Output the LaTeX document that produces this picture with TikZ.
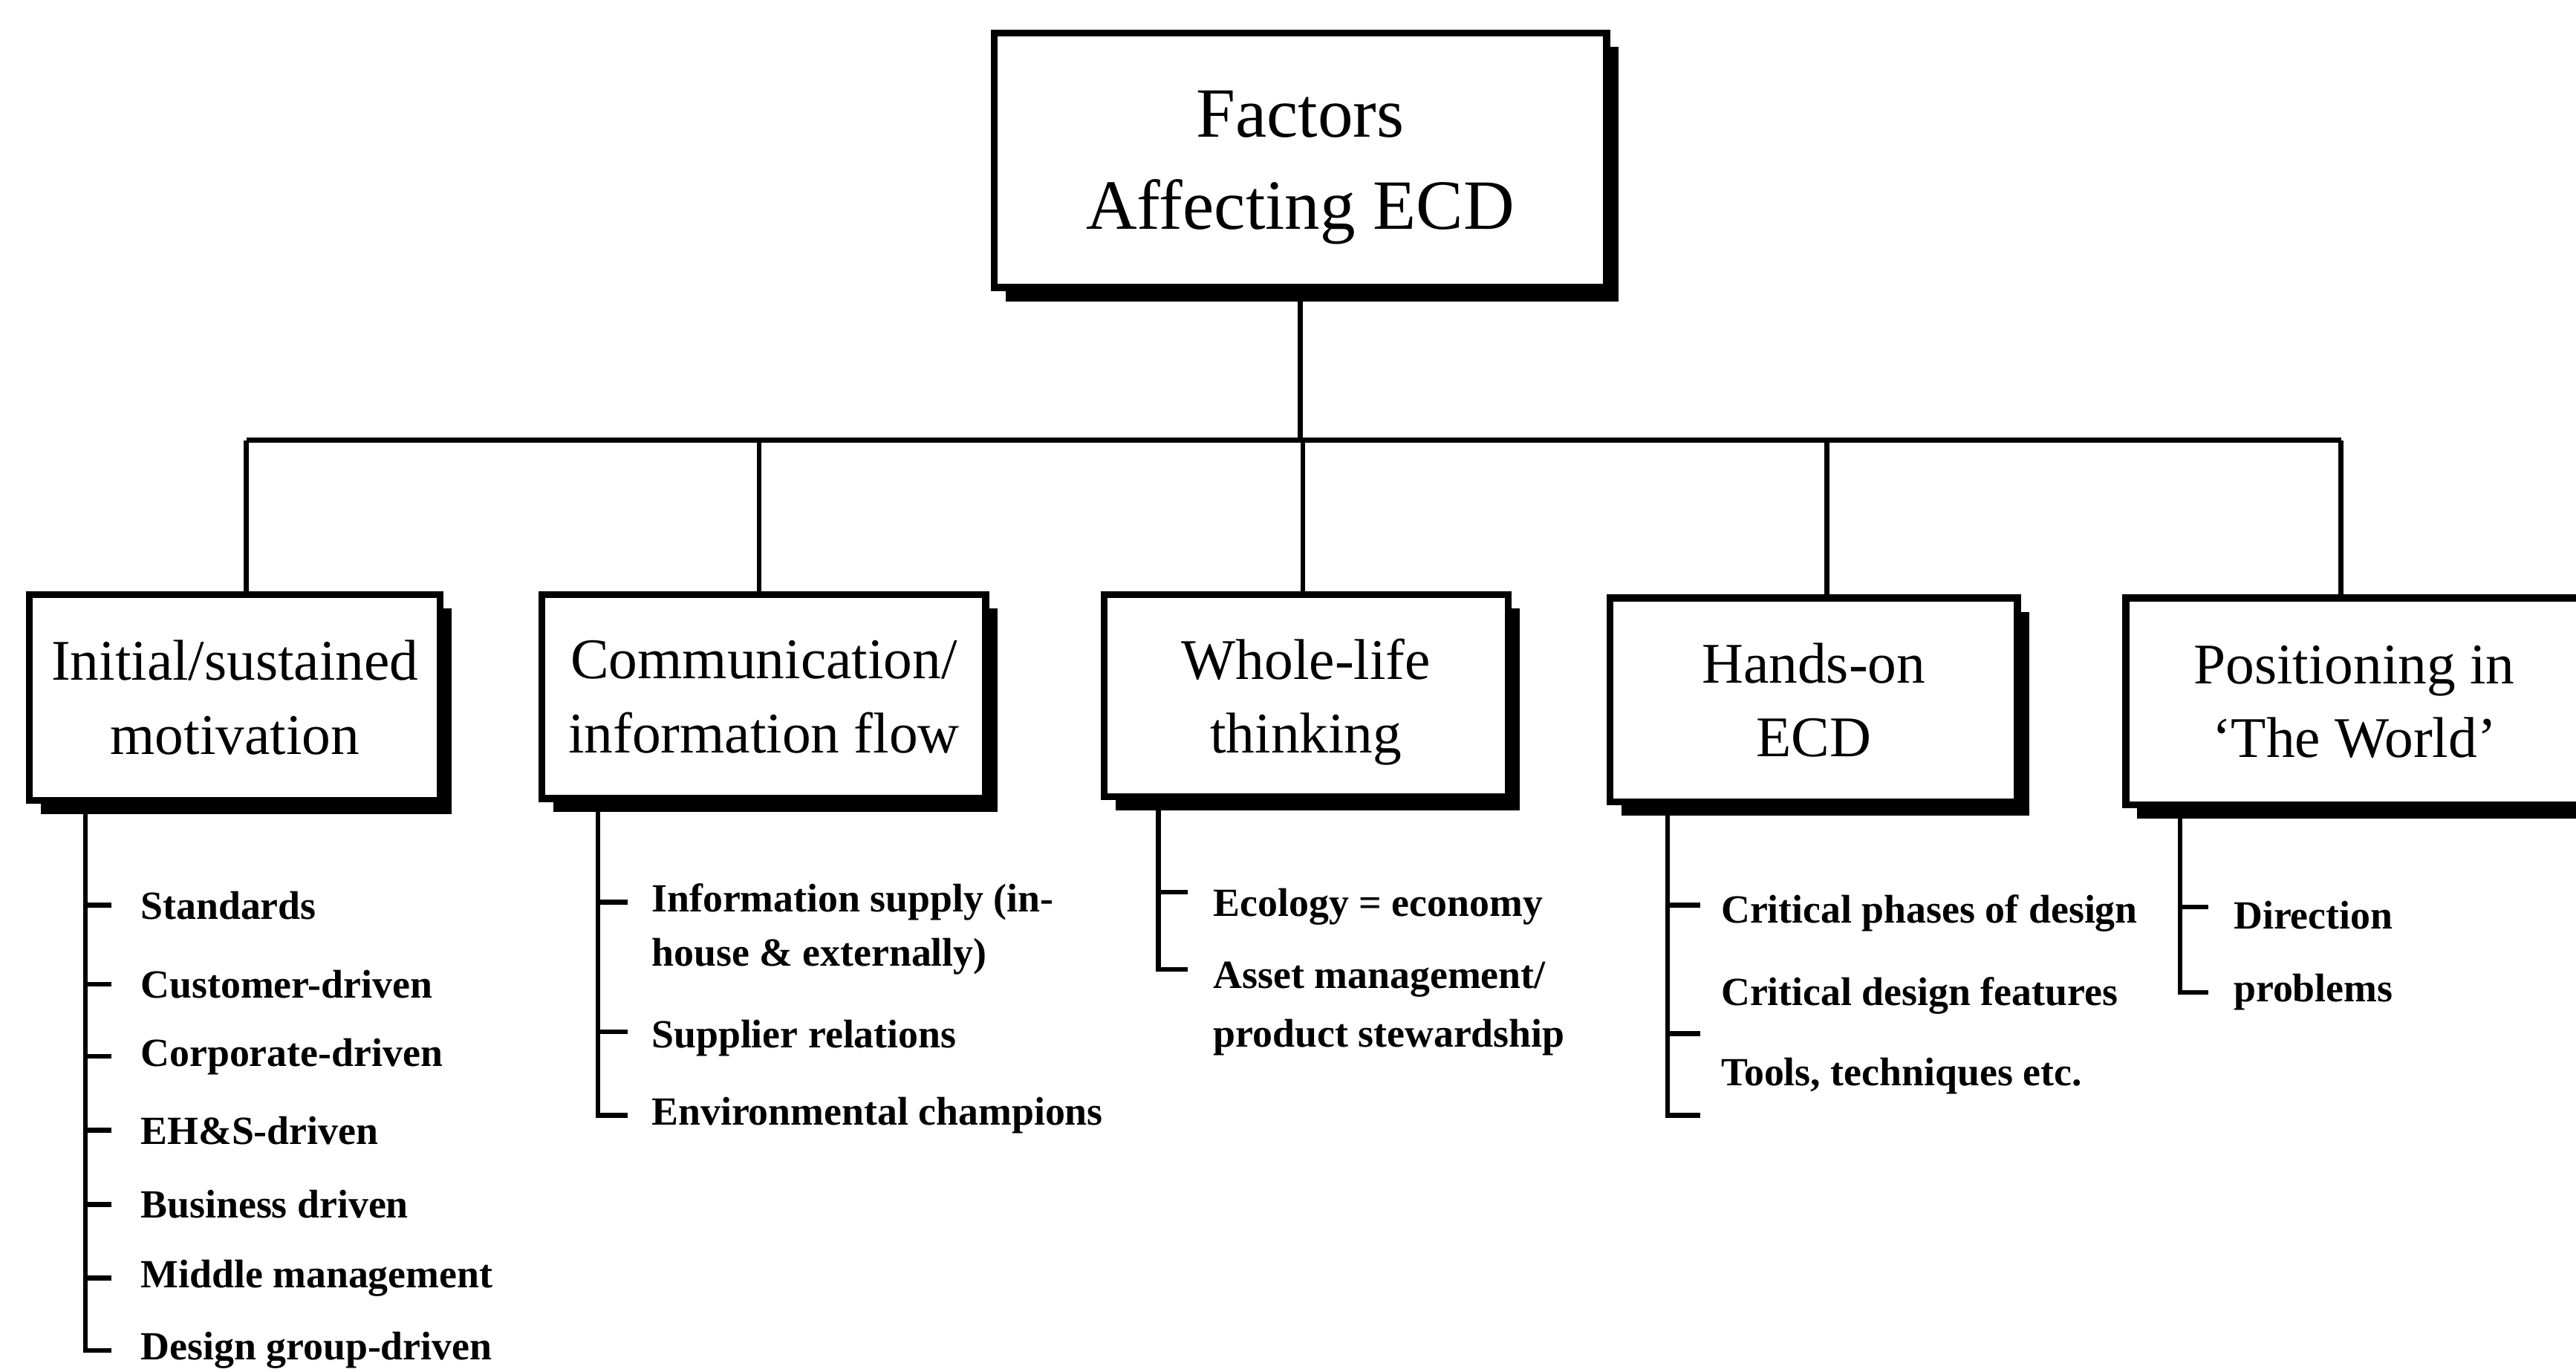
\documentclass[tikz,border=0pt]{standalone}
\usepackage{fontspec}
\setmainfont{Liberation Serif}
\usetikzlibrary{shadows}
\begin{document}
\begin{tikzpicture}[x=0.3pt,y=-0.3pt,
 box/.style={draw, line width=1.25pt, fill=white, align=center, inner sep=0pt, text depth=0pt,
   drop shadow={opacity=1, fill=black, shadow xshift=2.1pt, shadow yshift=-2.5pt}},
 topbox/.style={box, font=\fontsize{12.9}{16.8}\selectfont},
 catbox/.style={box, font=\fontsize{10.5}{13.5}\selectfont},
 item/.style={anchor=west, inner sep=0pt, align=left, font=\fontsize{7.3}{9.9}\selectfont\bfseries},
 link/.style={line width=0.9pt},
]
\useasboundingbox (0,0) rectangle (1568,835);
\clip (0,0) rectangle (1568,835);

% main box
\node[topbox, minimum width=111.9pt, minimum height=46.5pt] (top) at (791.5,97.5) {Factors\\Affecting ECD};

% category boxes
\node[catbox, minimum width=75pt, minimum height=37.5pt] (c1) at (143,424.5) {Initial/sustained\\motivation};
\node[catbox, minimum width=81pt, minimum height=37.2pt] (c2) at (465,424) {Communication/\\information flow};
\node[catbox, minimum width=73.8pt, minimum height=36.9pt] (c3) at (795,423.5) {Whole-life\\thinking};
\node[catbox, minimum width=74.4pt, minimum height=37.2pt] (c4) at (1104,426) {Hands-on\\ECD};
\node[catbox, minimum width=83.4pt, minimum height=37.8pt] (c5) at (1433,427) {Positioning in\\‘The World’};

% bus
\coordinate (bus) at (791,268);
\coordinate (j1) at (150,268);
\coordinate (j2) at (462,268);
\coordinate (j3) at (793,268);
\coordinate (j4) at (1112,268);
\coordinate (j5) at (1425,268);
\draw[link] (top.south) -- (top.south |- bus);
\draw[link] (j1) -- (j5);
\draw[link] (j1) -- (j1 |- c1.north);
\draw[link] (j2) -- (j2 |- c2.north);
\draw[link] (j3) -- (j3 |- c3.north);
\draw[link] (j4) -- (j4 |- c4.north);
\draw[link] (j5) -- (j5 |- c5.north);

% list 1
\coordinate (v1) at (52,0);
\node[item] (i11) at (85,551) {Standards};
\node[item] (i12) at (85,599) {Customer-driven};
\node[item] (i13) at (85,643) {Corporate-driven};
\node[item] (i14) at (85,688) {EH\&S-driven};
\node[item] (i15) at (85,733) {Business driven};
\node[item] (i16) at (85,778) {Middle management};
\node[item] (i17) at (85,822) {Design group-driven};
\draw[link] (c1.south -| v1) -- (i17.west -| v1) -- ++(16,0);
\foreach \n in {i11,i12,i13,i14,i15,i16} \draw[link] (\n.west -| v1) -- ++(16,0);

% list 2
\coordinate (v2) at (364,0);
\node[item] (i21) at (396,565.5) {Information supply (in-\\house \& externally)};
\node[item] (i22) at (396,632) {Supplier relations};
\node[item] (i23) at (396,679) {Environmental champions};
\draw[link] (c2.south -| v2) -- (i23.west -| v2) -- ++(18,0);
\draw[link] (364,549) -- ++(18,0);
\draw[link] (364,628) -- ++(18,0);

% list 3
\coordinate (v3) at (705,0);
\node[item] (i31) at (738,552) {Ecology = economy};
\node[item, font=\fontsize{7.3}{10.8}\selectfont\bfseries] (i32) at (738,614) {Asset management/\\product stewardship};
\draw[link] (c3.south -| v3) -- (705,590) -- ++(18,0);
\draw[link] (705,543) -- ++(18,0);

% list 4
\coordinate (v4) at (1015,0);
\node[item] (i41) at (1047,556) {Critical phases of design};
\node[item] (i42) at (1047,606) {Critical design features};
\node[item] (i43) at (1047,655) {Tools, techniques etc.};
\draw[link] (c4.south -| v4) -- (1015,679) -- ++(20,0);
\draw[link] (1015,551) -- ++(20,0);
\draw[link] (1015,629) -- ++(20,0);

% list 5
\coordinate (v5) at (1327,0);
\node[item] (i51) at (1359,557) {Direction};
\node[item] (i52) at (1359,604) {problems};
\draw[link] (c5.south -| v5) -- (i52.west -| v5) -- ++(17,0);
\draw[link] (1327,552) -- ++(17,0);
\end{tikzpicture}
\end{document}
